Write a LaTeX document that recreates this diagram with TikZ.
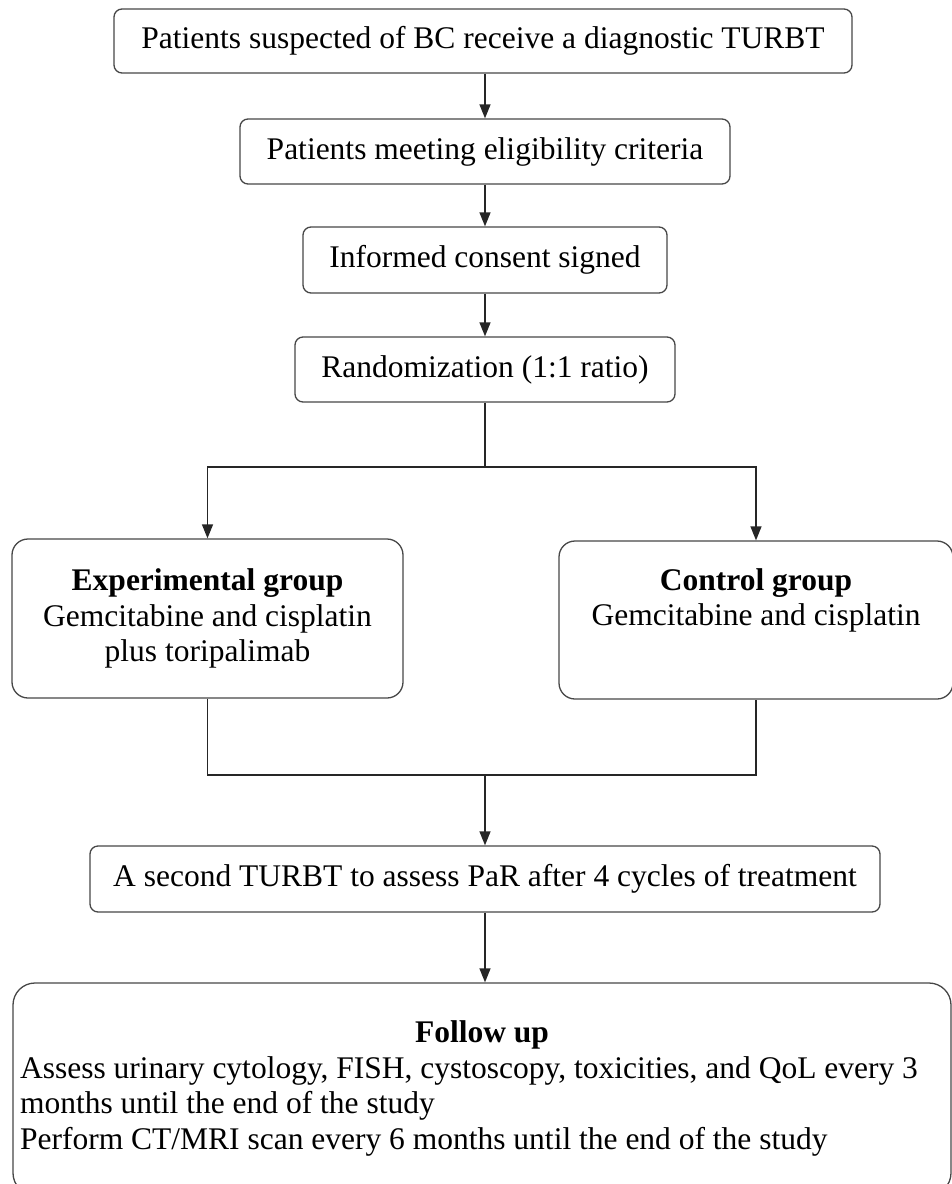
\documentclass[tikz,border=0pt]{standalone}
\usepackage{fontspec}
\setmainfont{Liberation Serif}
\usetikzlibrary{arrows.meta}
\begin{document}
\begin{tikzpicture}[x=1pt,y=-1pt,
  box/.style={draw=black!72, line width=1.3pt, rounded corners=8pt, font=\fontsize{31.5}{35.5}\selectfont, align=center, inner sep=0pt},
  bigbox/.style={box, rounded corners=16pt},
  conn/.style={draw=black!85, line width=1.3pt},
  arr/.style={conn, -{Triangle[length=14pt,width=11pt]}}]
\useasboundingbox (0,0) rectangle (952,1184);
\node[box, minimum width=738pt, minimum height=64pt] (b1) at (483,41) {Patients suspected of BC receive a diagnostic TURBT};
\node[box, minimum width=490pt, minimum height=65pt] (b2) at (485,151.5) {Patients meeting eligibility criteria};
\node[box, minimum width=364pt, minimum height=66pt] (b3) at (485,260) {Informed consent signed};
\node[box, minimum width=380pt, minimum height=65pt] (b4) at (485,369.5) {Randomization (1:1 ratio)};
\node[bigbox, minimum width=391pt, minimum height=159pt] (exp) at (207.5,618.5) {\textbf{Experimental group}\\Gemcitabine and cisplatin\\plus toripalimab};
\node[bigbox, minimum width=394pt, minimum height=158pt] (ctl) at (756,620) {\textbf{Control group}\\Gemcitabine and cisplatin\\\strut};
\node[box, minimum width=790pt, minimum height=66pt] (t2) at (485,879) {A second TURBT to assess PaR after 4 cycles of treatment};
\node[bigbox, rounded corners=22pt, minimum width=938pt, minimum height=212pt] (fu) at (482,1089) {\hspace*{-26pt}\begin{tabular}{@{}l@{}}\multicolumn{1}{@{}c@{}}{\hspace*{26pt}\textbf{Follow up}}\\
Assess urinary cytology, FISH, cystoscopy, toxicities, and QoL every 3\\
months until the end of the study\\
Perform CT/MRI scan every 6 months until the end of the study\end{tabular}};
\coordinate (sp) at (485,467);
\coordinate (mg) at (485,775);
\draw[arr] (b1.south -| b2.north) -- (b2.north);
\draw[arr] (b2.south) -- (b3.north);
\draw[arr] (b3.south) -- (b4.north);
\draw[conn] (b4.south) -- (b4.south |- sp);
\draw[arr] (b4.south |- sp) -| (exp.north);
\draw[arr] (b4.south |- sp) -| (ctl.north);
\draw[conn] (exp.south) |- (mg) -| (ctl.south);
\draw[arr] (mg) -- (t2.north);
\draw[arr] (t2.south) -- (fu.north -| t2.south);
\end{tikzpicture}
\end{document}
